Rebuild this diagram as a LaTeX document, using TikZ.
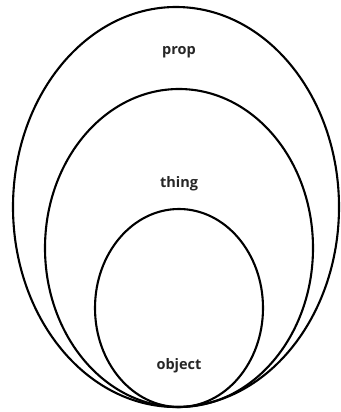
\documentclass[tikz,border=0pt]{standalone}
\usepackage{fontspec}
\setmainfont{Open Sans}
\begin{document}
\begin{tikzpicture}[x=1pt,y=-1pt,
  ring/.style={draw=black,line width=2.1pt},
  lbl/.style={font=\fontsize{14.5}{16}\selectfont\bfseries,text=black!85}]
\useasboundingbox (0,0) rectangle (340,412);
\draw[ring] (176,207) ellipse [x radius=163, y radius=200];
\draw[ring] (179,248) ellipse [x radius=134, y radius=159];
\draw[ring] (179,308) ellipse [x radius=84, y radius=99];
\node[lbl] (prop) at (179,52) {prop};
\node[lbl] (thing) at (179,184) {thing};
\node[lbl] (object) at (179,366) {object};
\end{tikzpicture}
\end{document}
